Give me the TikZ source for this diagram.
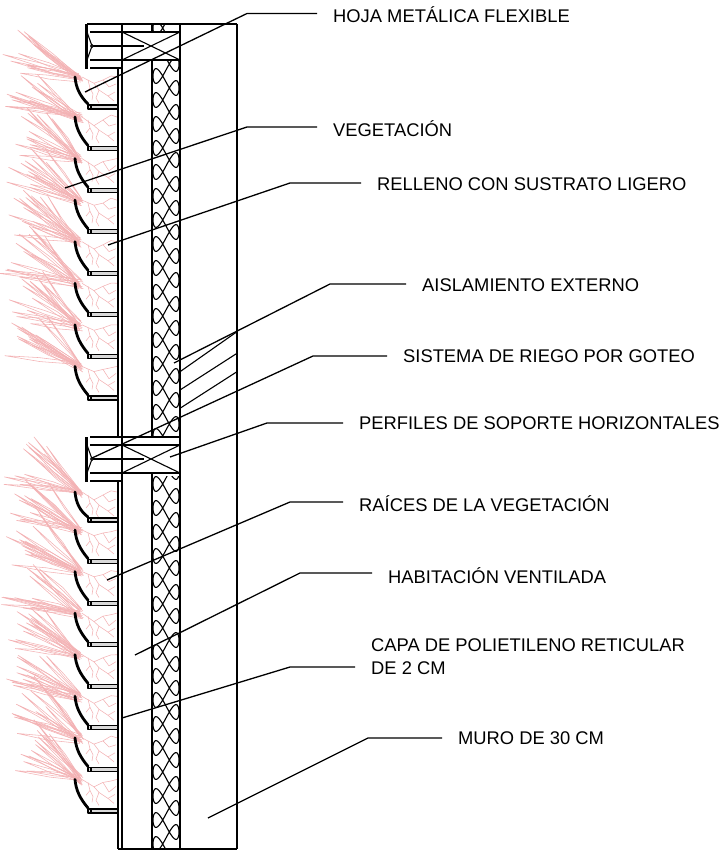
\documentclass[tikz,border=0pt]{standalone}
\usepackage{fontspec}
\setmainfont{Liberation Sans}
\definecolor{leafpink}{RGB}{243,178,180}
\begin{document}
\begin{tikzpicture}[x=1pt,y=-1pt,line join=round,
  part/.style={black,line width=1.1pt},
  heavy/.style={black,line width=1.8pt},
  leader/.style={black,line width=1.3pt},
  sheet/.style={black,line width=2.8pt,line cap=round},
  bolt/.style={black,line width=2.6pt},
  leaf/.style={draw=leafpink,line width=0.55pt},
  callout/.style={anchor=base west,inner sep=0pt,font=\fontsize{18.35}{22.4}\selectfont,text=black},
]
\useasboundingbox (0,0) rectangle (725,851);
\pgfmathsetseed{11}

% ---------- planting pockets: leaves, roots, metal sheet, floors ----------
\foreach \fa/\ta in {107/67,520/482}{
  \foreach \k in {0,...,7}{
    \pgfmathsetmacro\fl{\fa+41.57*\k}
    \pgfmathsetmacro\tp{\k==0 ? \ta : \fa+41.57*(\k-1)}
    % leaves fanning out of the pocket
    \foreach \i in {1,...,13}{
      \pgfmathsetmacro\ang{4+52*rnd}
      \pgfmathsetmacro\len{50+30*rnd}
      \pgfmathsetmacro\bx{80+5*(rnd-0.5)}
      \pgfmathsetmacro\by{\tp+10+8*(rnd-0.5)}
      \pgfmathsetmacro\tx{\bx-\len*cos(\ang)}
      \pgfmathsetmacro\ty{\by-\len*sin(\ang)}
      \pgfmathsetmacro\mx{\bx-0.5*\len*cos(\ang)+5*(rnd-0.5)}
      \pgfmathsetmacro\my{\by-0.5*\len*sin(\ang)-1.5}
      \draw[leaf] (\bx,\by) -- (\mx,\my) -- (\tx,\ty) -- (\mx+1,\my+4) -- (\bx+1,\by+2);
    }
    % roots inside the pocket
    \pgfmathsetmacro\ra{4*rnd}
    \pgfmathsetmacro\rb{4*rnd}
    \draw[leaf] (82,\tp+10) -- (94,\tp+15+\ra) -- (103,\tp+13) -- (111,\tp+8+\rb) -- (117,\tp+10);
    \draw[leaf] (94,\tp+15+\ra) -- (99,\tp+23) -- (108,\tp+29) -- (114,\tp+34);
    \draw[leaf] (99,\tp+23) -- (96,\tp+31) -- (99,\tp+36);
    \draw[leaf] (103,\tp+13) -- (109,\tp+19+\rb) -- (116,\tp+17);
    \draw[leaf] (108,\tp+29) -- (115,\tp+25);
    \draw[leaf] (88,\tp+13) -- (90,\tp+21) -- (93,\tp+27) -- (92,\tp+33);
    \draw[leaf] (90,\tp+21) -- (86,\tp+26);
    % flexible metal sheet
    \draw[sheet] (75,\tp+10) .. controls (76,\tp+21) and (80,\tp+29) .. (88,\fl-3);
    % pocket floor
    \draw[part,fill=black!15] (88,\fl-2) rectangle (118,\fl+2);
    \draw[part] (91,\fl-2) -- (91,\fl+2);
  }
}

% ---------- insulation batts ----------
\begin{scope}
  \clip (152,24) rectangle (180,32) (152,60) rectangle (180,437) (152,476) rectangle (180,849);
  \foreach \p in {0,...,36}{
    \draw[black,line width=1.1pt] plot[domain=0:360,samples=60]
      ({166+13*sin(\x)},{10+24*\p+24*\x/360+10.2*sin(2*\x)});
  }
\end{scope}

% ---------- wall layers ----------
\draw[part] (87,24) -- (237,24);
\draw[part] (237,24) -- (237,849);
\draw[part] (118,849) -- (237,849);
\draw[heavy] (180,24) -- (180,849);
\draw[part] (122,24) -- (122,849);
\draw[part] (118,67) -- (118,437);
\draw[part] (118,482) -- (118,849);
\draw[part] (152,24) -- (152,32);
\draw[part] (152,60) -- (152,437);
\draw[part] (152,473) -- (152,849);

% hatching inside the wall
\draw[part] (180,371.7) -- (237,331.7);
\draw[part] (180,390) -- (237,353.3);
\draw[part] (180,408.3) -- (237,371.7);

% ---------- horizontal support profiles ----------
\foreach \y in {24,437}{
  \ifnum\y>30
    \draw[part] (90,\y) -- (180,\y);
  \fi
  \draw[part] (90,\y+8) -- (180,\y+8);
  \draw[part] (90,\y+36) -- (180,\y+36);
  \draw[part] (90,\y+44) -- (122,\y+44);
  \draw[part] (122,\y+8) -- (180,\y+36);
  \draw[part] (122,\y+36) -- (180,\y+8);
  \draw[black,line width=3pt] (86.5,\y) -- (86.5,\y+45);
  \draw[part] (87,\y+8) -- (92,\y+22) -- (87,\y+36);
  \draw[bolt] (92,\y+22) -- (144,\y+22);
  \draw[part,fill=white] (92,\y+22) circle (1.4);
}

% ---------- callouts ----------
\node[callout] (l1) at (333,22.7) {HOJA METÁLICA FLEXIBLE};
\node[callout] (l2) at (333,136.7) {VEGETACIÓN};
\node[callout] (l3) at (377,190) {RELLENO CON SUSTRATO LIGERO};
\node[callout] (l4) at (422,291) {AISLAMIENTO EXTERNO};
\node[callout] (l5) at (403,362.7) {SISTEMA DE RIEGO POR GOTEO};
\node[callout] (l6) at (359,429.3) {PERFILES DE SOPORTE HORIZONTALES};
\node[callout] (l7) at (359,511.7) {RAÍCES DE LA VEGETACIÓN};
\node[callout] (l8) at (388,583.3) {HABITACIÓN VENTILADA};
\node[callout,align=left] (l9) at (371,674.3) {CAPA DE POLIETILENO RETICULAR\\DE 2 CM};
\node[callout] (l10) at (458,744.3) {MURO DE 30 CM};

\coordinate (e1) at (85,92);    \coordinate (c1) at (247,13.5);
\coordinate (e2) at (65,188);   \coordinate (c2) at (247,127);
\coordinate (e3) at (108,245);  \coordinate (c3) at (290,183);
\coordinate (e4) at (174,363);  \coordinate (c4) at (330,284);
\coordinate (e5) at (92,458);   \coordinate (c5) at (313,356);
\coordinate (e6) at (170,457);  \coordinate (c6) at (267,423);
\coordinate (e7) at (107,580);  \coordinate (c7) at (290,502);
\coordinate (e8) at (135,655);  \coordinate (c8) at (300,573);
\coordinate (e9) at (122,718);  \coordinate (c9) at (290,667);
\coordinate (e10) at (208,818); \coordinate (c10) at (368,738);

\foreach \n in {1,...,10}{
  \draw[leader] (e\n) -- (c\n) -- ([xshift=-16pt]c\n -| l\n.west);
}
\end{tikzpicture}
\end{document}
